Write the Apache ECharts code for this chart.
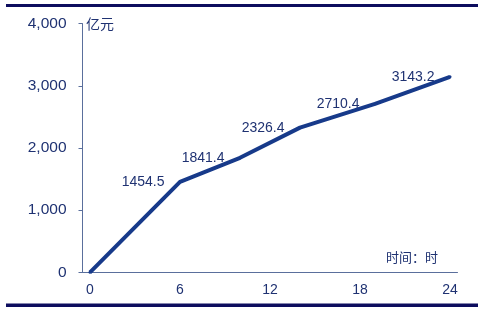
<!DOCTYPE html>
<html><head><meta charset="utf-8">
<script src="https://cdn.jsdelivr.net/npm/echarts@6/dist/echarts.min.js"></script>
<style>html,body{margin:0;padding:0;background:#fff}#c{width:492px;height:312px}</style>
</head><body><div id="c"></div>
<script>
var hours = [];
for (var h = 0; h <= 24; h++) hours.push(String(h));
var pointHours = ['0', '6', '10', '14', '19', '24'];
var pointValues = [0, 1454.5, 1841.4, 2326.4, 2710.4, 3143.2];
var yTicks = [0, 1000, 2000, 3000, 4000];
var unitLabel = '亿元';
var timeLabel = '时间：时';

var data = pointHours.map(function (h, i) {
  return { value: [h, pointValues[i]], label: { show: i > 0 } };
});

var chart = echarts.init(document.getElementById('c'));
var navy = '#1f3272';
var lineColor = '#173a8a';
chart.setOption({
  animation: false,
  backgroundColor: '#ffffff',
  grid: { left: 82.5, right: 34.5, top: 23.6, bottom: 39.7 },
  xAxis: {
    type: 'category', data: hours, boundaryGap: true,
    axisLine: { lineStyle: { color: '#5a6f9c', width: 1 } },
    axisTick: { interval: 5, length: 4, lineStyle: { color: '#5a6f9c' } },
    axisLabel: { interval: 5, color: navy, fontSize: 14, fontFamily: 'Liberation Sans, Arial', margin: 11 },
    splitLine: { show: false }
  },
  yAxis: {
    type: 'value', min: yTicks[0], max: yTicks[yTicks.length - 1], interval: 1000,
    axisLine: { show: true, lineStyle: { color: '#5a6f9c', width: 1 } },
    axisTick: { show: true, length: 4, lineStyle: { color: '#5a6f9c' } },
    axisLabel: { color: navy, fontSize: 15.5, fontFamily: 'Liberation Sans, Arial', margin: 16,
      formatter: function (v) { return v.toLocaleString('en-US'); } },
    splitLine: { show: false }
  },
  series: [{
    type: 'line', data: data, symbol: 'circle', symbolSize: 3, showSymbol: true,
    itemStyle: { color: lineColor },
    lineStyle: { color: lineColor, width: 4 },
    label: { show: true, position: 'left', distance: 14, color: navy, fontSize: 14,
      fontFamily: 'Liberation Sans, Arial',
      formatter: function (p) { return p.value[1]; } }
  }],
  graphic: [
    { type: 'rect', shape: { x: 6, y: 4, width: 472, height: 3 }, style: { fill: '#0d0d5e' } },
    { type: 'rect', shape: { x: 6, y: 303.5, width: 472, height: 3.5 }, style: { fill: '#0d0d5e' } },
    { type: 'text', left: 86, top: 17, style: { text: unitLabel, fill: navy, fontSize: 14, fontFamily: 'Noto Sans CJK SC' } },
    { type: 'text', left: 386, top: 251, style: { text: timeLabel, fill: navy, fontSize: 13, fontFamily: 'Noto Sans CJK SC' } }
  ]
});
</script></body></html>
